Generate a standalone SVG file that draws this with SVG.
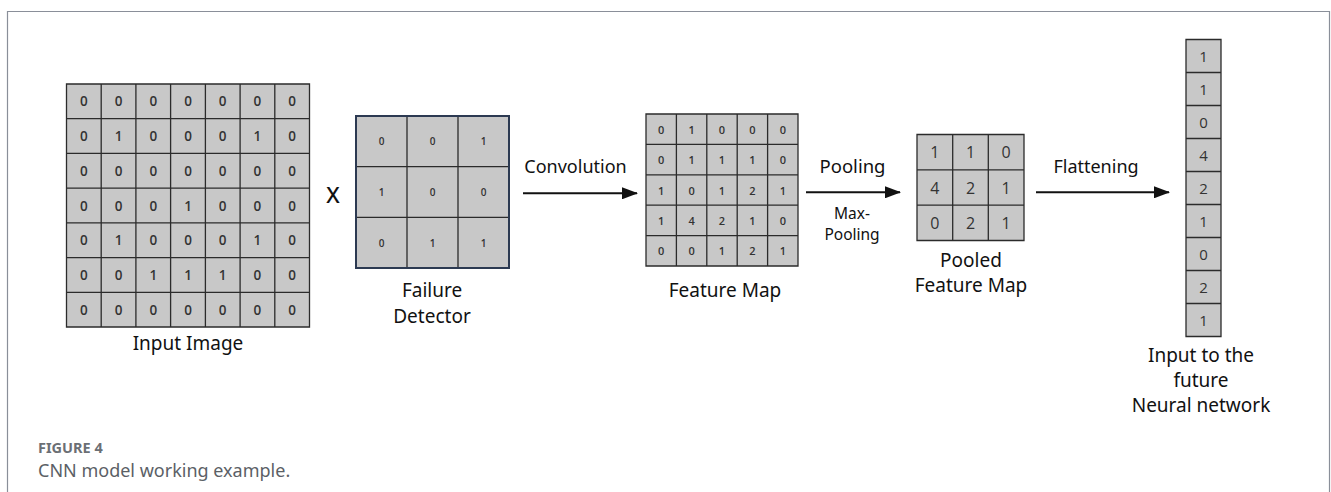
<svg xmlns="http://www.w3.org/2000/svg" width="1331" height="492" viewBox="0 0 1331 492">
<style>
.cell{fill:#c8c8c8}
.grid{fill:none;stroke:#2b2b2b;stroke-width:1.3}
.num{font-family:"Open Sans","Noto Sans",sans-serif;fill:#333;text-anchor:middle;dominant-baseline:central}
.n13{font-size:13.5px;font-weight:600}
.n10{font-size:10px;font-weight:600}
.n11{font-size:11px;font-weight:600}
.n16{font-size:16px}
.n15{font-size:15px}
.lbl{font-family:"Noto Sans","Open Sans",sans-serif;fill:#111;text-anchor:middle}
.conn{stroke:#111;stroke-width:2;fill:none}
</style>
<defs>
<marker id="ah" markerUnits="userSpaceOnUse" markerWidth="16" markerHeight="12" refX="15" refY="6" orient="auto">
<path d="M0,0 L16,6 L0,12 Z" fill="#111"/>
</marker>
</defs>
<rect x="0" y="0" width="1331" height="492" fill="#fff"/>
<path d="M7.5,500 V11.5 H1329.5 V500" fill="none" stroke="#8a8f99" stroke-width="1.2"/>

<g id="input-image">
<rect class="cell" x="66.5" y="84" width="243" height="243"/>
<path class="grid" d="M66.5,84H309.5V327H66.5Z M101.2,84V327 M135.9,84V327 M170.6,84V327 M205.4,84V327 M240.1,84V327 M274.8,84V327 M66.5,118.7H309.5 M66.5,153.4H309.5 M66.5,188.1H309.5 M66.5,222.9H309.5 M66.5,257.6H309.5 M66.5,292.3H309.5"/>
<g class="num n13">
<text x="83.9" y="101.4">0</text><text x="118.6" y="101.4">0</text><text x="153.3" y="101.4">0</text><text x="188" y="101.4">0</text><text x="222.7" y="101.4">0</text><text x="257.4" y="101.4">0</text><text x="292.1" y="101.4">0</text>
<text x="83.9" y="136.1">0</text><text x="118.6" y="136.1">1</text><text x="153.3" y="136.1">0</text><text x="188" y="136.1">0</text><text x="222.7" y="136.1">0</text><text x="257.4" y="136.1">1</text><text x="292.1" y="136.1">0</text>
<text x="83.9" y="170.8">0</text><text x="118.6" y="170.8">0</text><text x="153.3" y="170.8">0</text><text x="188" y="170.8">0</text><text x="222.7" y="170.8">0</text><text x="257.4" y="170.8">0</text><text x="292.1" y="170.8">0</text>
<text x="83.9" y="205.5">0</text><text x="118.6" y="205.5">0</text><text x="153.3" y="205.5">0</text><text x="188" y="205.5">1</text><text x="222.7" y="205.5">0</text><text x="257.4" y="205.5">0</text><text x="292.1" y="205.5">0</text>
<text x="83.9" y="240.2">0</text><text x="118.6" y="240.2">1</text><text x="153.3" y="240.2">0</text><text x="188" y="240.2">0</text><text x="222.7" y="240.2">0</text><text x="257.4" y="240.2">1</text><text x="292.1" y="240.2">0</text>
<text x="83.9" y="274.9">0</text><text x="118.6" y="274.9">0</text><text x="153.3" y="274.9">1</text><text x="188" y="274.9">1</text><text x="222.7" y="274.9">1</text><text x="257.4" y="274.9">0</text><text x="292.1" y="274.9">0</text>
<text x="83.9" y="309.6">0</text><text x="118.6" y="309.6">0</text><text x="153.3" y="309.6">0</text><text x="188" y="309.6">0</text><text x="222.7" y="309.6">0</text><text x="257.4" y="309.6">0</text><text x="292.1" y="309.6">0</text>
</g>
<text class="lbl" x="188" y="350" font-size="19">Input Image</text>
</g>

<g id="times">
<text x="333" y="203" font-family="'Noto Sans',sans-serif" font-size="22" font-weight="500" fill="#111" text-anchor="middle">X</text>
</g>

<g id="failure-detector">
<rect class="cell" x="356" y="116" width="153" height="152"/>
<path class="grid" d="M407,116V268 M458,116V268 M356,166.7H509 M356,217.3H509"/>
<rect x="356" y="116" width="153" height="152" fill="none" stroke="#2c3a52" stroke-width="2"/>
<g class="num n10">
<text x="381.5" y="141.3">0</text><text x="432.5" y="141.3">0</text><text x="483.5" y="141.3">1</text>
<text x="381.5" y="192">1</text><text x="432.5" y="192">0</text><text x="483.5" y="192">0</text>
<text x="381.5" y="242.7">0</text><text x="432.5" y="242.7">1</text><text x="483.5" y="242.7">1</text>
</g>
<text class="lbl" x="432" y="297" font-size="19">Failure</text>
<text class="lbl" x="432" y="323" font-size="19">Detector</text>
</g>

<g id="feature-map">
<rect class="cell" x="646" y="114" width="152" height="152"/>
<path class="grid" d="M646,114H798V266H646Z M676.4,114V266 M706.8,114V266 M737.2,114V266 M767.6,114V266 M646,144.4H798 M646,174.8H798 M646,205.2H798 M646,235.6H798"/>
<g class="num n11">
<text x="661.2" y="129.2">0</text><text x="691.6" y="129.2">1</text><text x="722" y="129.2">0</text><text x="752.4" y="129.2">0</text><text x="782.8" y="129.2">0</text>
<text x="661.2" y="159.6">0</text><text x="691.6" y="159.6">1</text><text x="722" y="159.6">1</text><text x="752.4" y="159.6">1</text><text x="782.8" y="159.6">0</text>
<text x="661.2" y="190">1</text><text x="691.6" y="190">0</text><text x="722" y="190">1</text><text x="752.4" y="190">2</text><text x="782.8" y="190">1</text>
<text x="661.2" y="220.4">1</text><text x="691.6" y="220.4">4</text><text x="722" y="220.4">2</text><text x="752.4" y="220.4">1</text><text x="782.8" y="220.4">0</text>
<text x="661.2" y="250.8">0</text><text x="691.6" y="250.8">0</text><text x="722" y="250.8">1</text><text x="752.4" y="250.8">2</text><text x="782.8" y="250.8">1</text>
</g>
<text class="lbl" x="725" y="297" font-size="19">Feature Map</text>
</g>

<g id="pooled-feature-map">
<rect class="cell" x="917" y="134.5" width="107" height="106"/>
<path class="grid" d="M917,134.5H1024V240.5H917Z M952.7,134.5V240.5 M988.3,134.5V240.5 M917,169.8H1024 M917,205.2H1024"/>
<g class="num n16">
<text x="934.8" y="152.2">1</text><text x="970.5" y="152.2">1</text><text x="1006.2" y="152.2">0</text>
<text x="934.8" y="187.5">4</text><text x="970.5" y="187.5">2</text><text x="1006.2" y="187.5">1</text>
<text x="934.8" y="222.8">0</text><text x="970.5" y="222.8">2</text><text x="1006.2" y="222.8">1</text>
</g>
<text class="lbl" x="971" y="267" font-size="19">Pooled</text>
<text class="lbl" x="971" y="292" font-size="19">Feature Map</text>
</g>

<g id="flattened">
<rect class="cell" x="1186" y="39.5" width="35" height="297"/>
<path class="grid" d="M1186,39.5H1221V336.5H1186Z M1186,72.5H1221 M1186,105.5H1221 M1186,138.5H1221 M1186,171.5H1221 M1186,204.5H1221 M1186,237.5H1221 M1186,270.5H1221 M1186,303.5H1221"/>
<g class="num n15">
<text x="1203.5" y="56">1</text><text x="1203.5" y="89">1</text><text x="1203.5" y="122">0</text><text x="1203.5" y="155">4</text><text x="1203.5" y="188">2</text><text x="1203.5" y="221">1</text><text x="1203.5" y="254">0</text><text x="1203.5" y="287">2</text><text x="1203.5" y="320">1</text>
</g>
<text class="lbl" x="1201" y="362" font-size="19">Input to the</text>
<text class="lbl" x="1201" y="387" font-size="19">future</text>
<text class="lbl" x="1201" y="412" font-size="19">Neural network</text>
</g>

<g id="connectors">
<line class="conn" x1="523" y1="193.3" x2="637" y2="193.3" marker-end="url(#ah)"/>
<text class="lbl" x="575.5" y="173" font-size="18">Convolution</text>
<line class="conn" x1="806" y1="192.3" x2="900" y2="192.3" marker-end="url(#ah)"/>
<text class="lbl" x="852.5" y="173" font-size="18.5">Pooling</text>
<text class="lbl" x="852" y="219" font-size="15.5">Max-</text>
<text class="lbl" x="852" y="240" font-size="15.5">Pooling</text>
<line class="conn" x1="1036" y1="192.3" x2="1169" y2="192.3" marker-end="url(#ah)"/>
<text class="lbl" x="1096" y="173" font-size="18">Flattening</text>
</g>

<g id="caption">
<text x="38" y="453" font-family="'Noto Sans',sans-serif" font-size="14.5" font-weight="700" fill="#6b6f75">FIGURE 4</text>
<text x="38" y="477" font-family="'Noto Sans',sans-serif" font-size="18" fill="#5b5f66">CNN model working example.</text>
</g>
</svg>
